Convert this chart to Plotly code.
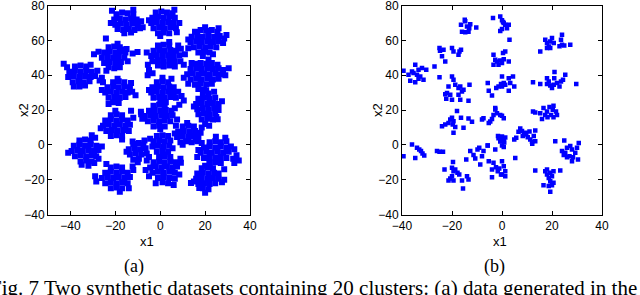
import plotly.graph_objects as go

# ---------------- panel (a): dense dataset, points read per cluster ----------------
a01 = [(-19.5,75),(-17,76),(-14.5,75.5),(-12,75),(-20.5,72),(-18,72.5),(-15.5,72),(-13,72.5),(-10.5,72),
       (-20,69),(-17.5,69.5),(-15,69),(-12.5,69.5),(-10,69),(-19,66.5),(-16.5,66),(-14,66.5),(-11.5,66),
       (-16,64),(-13,64.5),(-21.5,77),(-9,67),(-8.5,71),(-22,70),(-12,77.5),(-7.8,67.5)]
a02 = [(-2,76),(0.5,76.5),(3,76),(5.5,75.5),(-3.5,73),(-1,73.5),(1.5,73),(4,73.5),(6.5,73),
       (-4,70),(-1.5,70.5),(1,70),(3.5,70.5),(6,70),(-3,67),(-0.5,67.5),(2,67),(4.5,67.5),(7,67),
       (-1,64),(1.5,64.5),(4,64),(6.3,77.5),(8.5,70),(7.4,64.6),(-5,71.5),(0,62.5)]
a03 = [(15.5,65),(18,66),(20.5,65.5),(23,66),(25.5,65),(14,62),(16.5,62.5),(19,62),(21.5,62.5),(24,62),
       (26.5,62.5),(28.5,61),(13.5,59),(16,59.5),(18.5,59),(21,59.5),(23.5,59),(26,59.5),(28,58.5),
       (15,56),(17.5,56.5),(20,56),(22.5,56.5),(25,56),(17,53),(19.5,53.5),(22,53),
       (20,67.5),(12.5,60.5),(29.5,63),(23.5,52),(19,51),(26,67)]
a04 = [(-23,56),(-20.5,56.5),(-18,56),(-25,53),(-22.5,53.5),(-20,53),(-17.5,53.5),(-15.5,53),
       (-26,50),(-23.5,50.5),(-21,50),(-18.5,50.5),(-16,50),(-25,47),(-22.5,47.5),(-20,47),(-17.5,47.5),
       (-23,44.5),(-20.5,44),(-18,44.5),(-27.5,53.5),(-14.5,48),(-24,42.5),(-19,58),(-15,55),
       (-24.2,61),(-29.5,52),(-17.2,54.7),(-10.1,53.3),(-12.3,52.4)]
a05 = [(-1,57),(1.5,57.5),(4,57),(-3,54),(-0.5,54.5),(2,54),(4.5,54.5),(7,54),
       (-4,51),(-1.5,51.5),(1,51),(3.5,51.5),(6,51),(8.5,51.5),(-3.5,48),(-1,48.5),(1.5,48),(4,48.5),
       (6.5,48),(9,48),(-1,45.5),(1.5,45),(4,45.5),(6.5,45),(-5.5,46),(-5,43),(11,52),(12.5,55.5),
       (10.5,46),(4,59),(-6,53),(8,57),(9.2,55.2),(-5.6,40),(-3.4,41.1)]
a06 = [(-38,45),(-35.5,45.5),(-33,45),(-40.5,42),(-38,42.5),(-35.5,42),(-33,42.5),(-30.5,42),
       (-41,39),(-38.5,39.5),(-36,39),(-33.5,39.5),(-31,39),(-29,39.5),(-39,36),(-36.5,36.5),(-34,36),
       (-31.5,36.5),(-36,33.5),(-33.5,34),(-43,46.5),(-41.5,44.5),(-28,42.5),(-27,37),(-38.5,33.5),
       (-31,46),(-26,38.5),(-25.5,36)]
a07 = [(15.5,46.5),(18,47),(20.5,46.5),(23,47),(25.5,46),(13.5,43.5),(16,44),(18.5,43.5),(21,44),
       (23.5,43.5),(26,44),(28,43),(12,40.5),(14.5,41),(17,40.5),(19.5,41),(22,40.5),(24.5,41),(27,40.5),
       (29,40),(13.5,37.5),(16,38),(18.5,37.5),(21,38),(23.5,37.5),(26,38),(15.5,34.5),(18,35),
       (20.5,34.5),(23,35),(17,32),(19.5,31.5),(10.5,38.5),(30.5,44),(21.5,49),(14,47),(24,30.5),(12.5,35)]
a08 = [(-21,36),(-18.5,36.5),(-16,36),(-23.5,33),(-21,33.5),(-18.5,33),(-16,33.5),(-13.5,33),
       (-24.5,30),(-22,30.5),(-19.5,30),(-17,30.5),(-14.5,30),(-12.5,30.5),(-23,27),(-20.5,27.5),
       (-18,27),(-15.5,27.5),(-21,24.5),(-18.5,24),(-26,31.5),(-11,28.5),(-19,38),(-23,23.5),(-13,35.5)]
a09 = [(-1.5,36),(1,36.5),(3.5,36),(-3.5,33),(-1,33.5),(1.5,33),(4,33.5),(6,33),(-4,30),(-1.5,30.5),
       (1,30),(3.5,30.5),(6,30),(8,30.5),(-3,27),(-0.5,27.5),(2,27),(4.5,27.5),(7,27),(0,25),(2.5,24.5),
       (9.5,28),(10.5,25.5),(8.5,23),(-5,31.5),(1,38.5),(5,38)]
a10 = [(19,29),(21.5,29.5),(17,26.5),(19.5,27),(22,26.5),(24.5,27),(16,23.5),(18.5,24),(21,23.5),
       (23.5,24),(26,23.5),(16.5,20.5),(19,21),(21.5,20.5),(24,21),(26,20),(17,17.5),(19.5,18),(22,17.5),
       (24.5,18),(18.5,14.5),(21,15),(23.5,14.5),(20,12),(15,22),(27.5,25),(20.5,31),(18.5,10),(25,16),
       (21.8,10.9),(25.6,14.7)]
a11 = [(-22,17),(-19.5,17.5),(-17,17),(-24.5,14),(-22,14.5),(-19.5,14),(-17,14.5),(-14.5,14),
       (-25.5,11),(-23,11.5),(-20.5,11),(-18,11.5),(-15.5,11),(-13.5,11.5),(-24,8),(-21.5,8.5),(-19,8),
       (-16.5,8.5),(-14,8),(-22,5),(-19.5,5.5),(-17,5),(-26.5,9.5),(-12,15.5),(-13,19.5),(-17,3),(-20,19.5)]
a12 = [(-3,22.5),(-0.5,23),(2,22.5),(-5,19.5),(-2.5,20),(0,19.5),(2.5,20),(5,19.5),(-7,16.5),(-4.5,17),
       (-2,16.5),(0.5,17),(3,16.5),(5.5,17),(-5.5,13.5),(-3,14),(-0.5,13.5),(2,14),(4.5,13.5),(-3,10.5),
       (-0.5,11),(2,10.5),(-8.5,17.5),(-8,15),(7.5,14.5),(6.5,21),(0,9),(7,11),(-8.6,19)]
a13 = [(10,10.5),(12.5,11),(15,10.5),(8,7.5),(10.5,8),(13,7.5),(15.5,8),(7.5,4.5),(10,5),(12.5,4.5),
       (15,5),(17,4.5),(9,1.5),(11.5,2),(14,1.5),(16.5,2),(12,12.5),(6.5,6.5),(18,7),(18.5,1),(10,0),(15.9,2.9)]
a14 = [(-36,2.5),(-33.5,3),(-31,2.5),(-38.5,-0.5),(-36,0),(-33.5,-0.5),(-31,0),(-28.5,-0.5),
       (-39.5,-3.5),(-37,-3),(-34.5,-3.5),(-32,-3),(-29.5,-3.5),(-27.5,-3),(-38,-6.5),(-35.5,-6),(-33,-6.5),
       (-30.5,-6),(-28.5,-6.5),(-35.5,-9.5),(-33,-9),(-30.5,-9.5),(-32,-12),(-41,-4.5),(-29,4),(-26,-1),
       (-27.5,-8),(-35,-11.5),(-30.5,5.5),(-29.4,-10.5)]
a15 = [(-22,-13),(-19.5,-12.5),(-17,-13),(-24.5,-16),(-22,-15.5),(-19.5,-16),(-17,-15.5),(-14.5,-16),
       (-26,-19),(-23.5,-18.5),(-21,-19),(-18.5,-18.5),(-16,-19),(-13.5,-18.5),(-24.5,-22),(-22,-21.5),
       (-19.5,-22),(-17,-21.5),(-14.5,-22),(-22,-25),(-19.5,-24.5),(-17,-25),(-28.5,-21),(-29,-18),
       (-24,-11),(-12,-14.5),(-18,-27),(-14,-25),(-12.3,-12.4)]
a16 = [(-12,0.5),(-9.5,1),(-7.5,0),(-14,-2.5),(-11.5,-2),(-9,-2.5),(-6.5,-2),(-13.5,-5.5),(-11,-5),
       (-8.5,-5.5),(-6,-5),(-12,-8.5),(-9.5,-8),(-15,-4),(-5,-7),(-10,-10),(-7,2.5),(-12.3,1.9)]
a17 = [(-1.5,5),(1,5.5),(3.5,5),(-3,2),(-0.5,2.5),(2,2),(4.5,2.5),(-3.5,-1),(-1,-0.5),(1.5,-1),
       (4,-0.5),(-1.5,-4),(1,-3.5),(3.5,-4),(5.5,-2),(-4.5,3.5),(2,-5.5)]
a18 = [(-0.5,-7),(2,-6.5),(4.5,-7),(-3,-10),(-0.5,-9.5),(2,-10),(4.5,-9.5),(7,-10),(-4.5,-13),(-2,-12.5),
       (0.5,-13),(3,-12.5),(5.5,-13),(7.5,-12.5),(-3.5,-16),(-1,-15.5),(1.5,-16),(4,-15.5),(6.5,-16),
       (-1,-19),(1.5,-18.5),(4,-19),(6.5,-19.5),(1,-21.5),(3.5,-22),(-6,-9),(-6.5,-14.5),(8.5,-17),
       (6,-23),(-2,-22),(9,-8),(-5,-18.1),(9.2,-10.3),(13.7,-21.9)]
a19 = [(22,1.5),(24.5,2),(27,1.5),(29.5,2),(19.5,-1.5),(22,-1),(24.5,-1.5),(27,-1),(29.5,-1.5),(31.5,-1),
       (18,-4.5),(20.5,-4),(23,-4.5),(25.5,-4),(28,-4.5),(30.5,-4),(19.5,-7.5),(22,-7),(24.5,-7.5),(27,-7),
       (29.5,-7.5),(22,-10.5),(24.5,-10),(27,-10.5),(17,-3),(33,-2.5),(32.5,-8),(35,-9),(34,-6),(29,4),
       (20,-12),(16.5,-7),(24.8,4.7),(33,-10.5)]
a20 = [(18.5,-13.5),(21,-13),(23.5,-13.5),(16.5,-16.5),(19,-16),(21.5,-16.5),(24,-16),(26,-16.5),
       (16,-19.5),(18.5,-19),(21,-19.5),(23.5,-19),(26,-19.5),(17,-22.5),(19.5,-22),(22,-22.5),(24.5,-22),
       (19,-25),(21.5,-25.5),(15,-21),(27.5,-21.5),(20,-27.5),(28.5,-14),(22,-11),(28.5,-20),(17.4,-24.8)]

# ---------------- panel (b): sparse dataset ----------------
b01 = [(-16.4,69),(-14.7,70.9),(-14,68),(-13.1,67),(-13.4,65),(-14.7,64.7),(-16,65),(-12.7,69.3),
       (-10.3,67.4),(-14.9,71.8)]
b02 = [(-3.6,72.8),(-0.7,73.7),(0,71.5),(0.7,70),(1.3,69),(2.7,69),(2,67),(0,66.5),(-0.7,65.4),
       (3,60.3),(0.4,70.5)]
b03 = [(17.3,60.3),(18,58.4),(18.7,56.5),(19.3,59.4),(20,61.3),(20.7,58.4),(18,55.6),(19.3,55.6),
       (15.3,53.6),(24,63.2),(23.6,60.3),(24,57.5),(24.9,57),(27.3,57.5),(23,56.6)]
b04 = [(-25,55.6),(-24.8,54),(-23.4,54.6),(-24,50.8),(-22.7,47.9),(-20,55.6),(-19.4,53.6),(-17,53.6),
       (-16.4,54.6),(-17.4,51.7),(-27,45),(-25,38.8)]
b05 = [(-3.4,51.7),(-2.7,48.9),(-3.4,46),(-2,47.9),(-0.7,48.4),(0.7,49.2),(0,47),(0.4,52.7),(1.3,53.6),
       (2.7,47.9),(-1.4,46)]
b06 = [(-39.4,42.5),(-37.4,40.2),(-36,42.1),(-35.4,41.2),(-34.7,46),(-34,40.2),(-33.4,43.1),(-32.7,39.3),
       (-32,44.1),(-31.4,37.4),(-34.7,36),(-36.7,36.8),(-30.3,43.1),(-33.4,38)]
b07 = [(-20,39.3),(-19.4,37.4),(-21.4,33.5),(-22,29.7),(-22.7,29.1),(-20.7,28.7),(-18.7,34.5),(-17.4,32.6),
       (-16.7,33.5),(-16,30.6),(-15.4,31.6),(-17.4,28.7),(-13,34.5),(-20,25.9),(-16.7,25.9),(-13.4,25.3),
       (-22.3,26.4)]
b08 = [(-5.7,35.5),(-5.3,31),(-4,28.3),(-2.3,32.6),(-1.4,33.5),(-0.4,34.9),(0,39.3),(0.7,35.5),(1.3,34.5),
       (2.7,38.3),(3.3,35.5),(4.4,39.3),(4.9,33.5),(2.7,31),(0,33.5)]
b09 = [(12.4,36),(15.3,34.9),(18,38.3),(18.7,36.4),(19.3,34.1),(20,32.6),(20.9,38.3),(21,41.8),(22,35.5),
       (23,33.5),(23.6,36.4),(24.4,37.4),(25.3,40.2),(29.7,34.9),(18,34.9),(20.7,34.5)]
b10 = [(12.4,19.1),(13.3,18.6),(15.3,18.2),(16,14.8),(16.6,21.1),(17.3,17.2),(18,19.1),(19,21.7),
       (19.6,17.2),(20.3,20.1),(20.6,22.4),(21.6,19.1),(22,17.2),(20.6,15.9),(18.2,15.9)]
b11 = [(-24,10.7),(-22.7,11.7),(-21.4,12.6),(-20.7,14.5),(-19.7,11.7),(-19.4,13.6),(-19.4,6.9),(-18.7,10.2),
       (-18,19.4),(-16.4,15.5),(-15.4,9.8),(-13.4,15.1),(-12,13.2),(-20,15.5)]
b12 = [(-7.4,15.3),(-5.3,12.5),(-4.7,13.4),(-3.4,17.2),(-2.7,21.1),(-2,18.2),(-0.7,17.2),(0,16.7),
       (0.7,15.3),(-4,14.8),(-8,14.5),(-2.7,20.3)]
b13 = [(-1.4,3.8),(0,4.8),(0.7,2.9),(1.3,4.2),(-0.7,1.9),(0.9,1.3),(-0.7,3.6),(-1.6,5),(0,-0.4),
       (0.7,-1.3),(-2.7,-2.7),(-5.7,-0.4)]
b14 = [(4.9,3),(5.7,4),(6.6,7.5),(7.3,9.4),(8,7.9),(8.3,5),(8.9,5.9),(9.7,6.9),(10.3,4.4),(11.3,3),
       (12,1.7),(12.7,5),(13.3,8.2),(13.3,2.1),(12.1,0.6),(11,7.6)]
b15 = [(-39.4,-6.5),(-36,0.2),(-34.7,-7.5),(-34,-1.7),(-33.1,-2.7),(-32.4,-3.6),(-31.8,-5),(-31.1,-6.1),
       (-26,-3.6),(-25,-4),(-23.6,-4)]
b16 = [(-23,-14.2),(-19.6,-9.9),(-20,-13.2),(-19.4,-15.1),(-18.7,-14.2),(-20.7,-19.4),(-21.4,-20.5),
       (-19.4,-20.5),(-20,-18),(-17.8,-16.1),(-17.1,-17.1),(-16,-20.5),(-15.6,-25.1),(-14,-18),(-13.4,-19.9)]
b17 = [(-12.7,-3.6),(-11.4,-5.9),(-10.7,-7.8),(-9.8,-2.7),(-9.1,-1.7),(-8.7,-11.3),(-8,-6.5),(-14.3,-8.4),
       (-5.7,-0.4),(-5.3,-9.4),(-7.4,-3.6)]
b18 = [(-4,-14.2),(-3.4,-10.3),(-2.4,-12.8),(-1.7,-15.1),(-1.1,-13.6),(-0.4,-17.1),(-4,-18.6),(0,-9.4),
       (0.7,-12.3),(1.3,-15.1),(0,-17.1),(1.3,-18),(5.3,-7.5)]
b19 = [(21.3,2.1),(24.9,2.5),(26,-1.7),(27.3,-0.7),(28,-2.7),(24,-3.6),(24.7,-5.9),(26,-7.1),(28,-9.4),
       (29.3,-4.6),(30,-1.7),(30.7,1.1),(30.4,-8.4),(25.3,-4.6),(27,-6.5),(28.4,-7.1)]
b20 = [(13.3,-14.8),(17.3,-15.1),(18,-17.1),(18.7,-19),(19.3,-16.1),(20,-18),(20.6,-15.1),(19.3,-20.9),
       (20,-23.2),(16.6,-23.2),(18.7,-23.7),(20.6,-21.8),(19.3,-27),(23.3,-14.8),(18,-14.2)]

X_TICKS = [-40, -20, 0, 20, 40]
Y_TICKS = [-40, -20, 0, 20, 40, 60, 80]
X_TITLE = "x1"
Y_TITLE = "x2"
PANEL_LABELS = ["(a)", "(b)"]
CAPTION = "Fig. 7 Two synthetic datasets containing 20 clusters: (a) data generated in the"

a_all = a01 + a02 + a03 + a04 + a05 + a06 + a07 + a08 + a09 + a10 + a11 + a12 + a13 + a14 + a15 + a16 + a17 + a18 + a19 + a20
b_all = b01 + b02 + b03 + b04 + b05 + b06 + b07 + b08 + b09 + b10 + b11 + b12 + b13 + b14 + b15 + b16 + b17 + b18 + b19 + b20

W, H = 640, 295
fig = go.Figure()
fig.add_trace(go.Scatter(x=[p[0] for p in a_all], y=[p[1] for p in a_all], mode="markers",
                         marker=dict(symbol="square", size=6, color="#0000ff", line=dict(width=0)),
                         xaxis="x", yaxis="y", showlegend=False, hoverinfo="skip"))
fig.add_trace(go.Scatter(x=[p[0] for p in b_all], y=[p[1] for p in b_all], mode="markers",
                         marker=dict(symbol="square", size=4.5, color="#0000ff", line=dict(width=0)),
                         xaxis="x2", yaxis="y2", showlegend=False, hoverinfo="skip"))

tickfont = dict(family="Liberation Sans, Arial", size=12, color="black")
titlefont = dict(family="Liberation Sans, Arial", size=13, color="black")
serif = dict(family="Liberation Serif, Times New Roman", color="black")
common = dict(showline=True, linecolor="black", linewidth=1, mirror="ticks", ticks="inside",
              ticklen=4, tickcolor="black", tickwidth=1, showgrid=False, zeroline=False,
              tickfont=tickfont, ticklabeloverflow="allow", automargin=False)

ydom = [(H - 214.5) / H, (H - 5.5) / H]


def ann(text, px, py, font, angle=0, anchor="center"):
    return dict(text=text, x=px / W, y=(H - py) / H, xref="paper", yref="paper", showarrow=False,
                xanchor=anchor, yanchor="middle", textangle=angle, font=font)


fig.update_layout(
    width=W, height=H, margin=dict(l=0, r=0, t=0, b=0, autoexpand=False),
    paper_bgcolor="white", plot_bgcolor="white",
    xaxis=dict(domain=[48 / W, 250 / W], range=[-50, 40], tickvals=X_TICKS, anchor="y", **common),
    yaxis=dict(domain=ydom, range=[-40, 80], tickvals=Y_TICKS, anchor="x", **common),
    xaxis2=dict(domain=[402 / W, 602 / W], range=[-40, 40], tickvals=X_TICKS, anchor="y2", **common),
    yaxis2=dict(domain=ydom, range=[-40, 80], tickvals=Y_TICKS, anchor="x2", **common),
    annotations=[
        ann(X_TITLE, 147, 242, titlefont),
        ann(X_TITLE, 500, 242, titlefont),
        ann(Y_TITLE, 23, 110, titlefont, angle=-90),
        ann(Y_TITLE, 377, 110, titlefont, angle=-90),
        ann(PANEL_LABELS[0], 134, 266, dict(serif, size=18)),
        ann(PANEL_LABELS[1], 494, 266, dict(serif, size=18)),
        ann(CAPTION, 639, 288, dict(serif, size=21), anchor="right"),
    ],
)
fig.write_html("out.html", config={"displayModeBar": False},
               post_script="document.body.style.margin='0';document.body.style.overflow='hidden';")
